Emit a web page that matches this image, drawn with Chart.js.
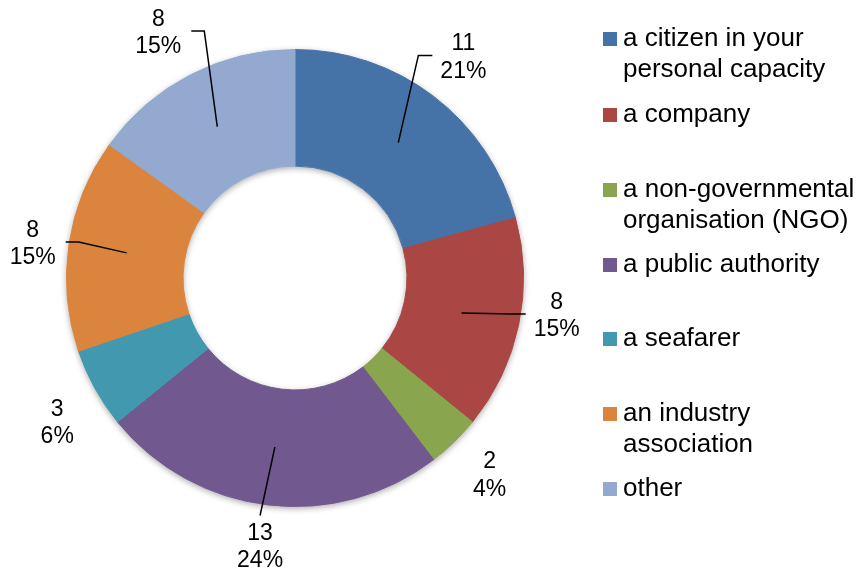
<!DOCTYPE html>
<html>
<head>
<meta charset="utf-8">
<title>Respondents by type</title>
<script src="https://cdn.jsdelivr.net/npm/chart.js@4.4.1/dist/chart.umd.min.js"></script>
<style>
  html, body { margin: 0; padding: 0; background: #fff; }
  #wrap { width: 861px; height: 574px; }
</style>
</head>
<body>
<div id="wrap"><canvas id="donut" width="861" height="574"></canvas></div>
<script>
// data
const categories = [
  'a citizen in your personal capacity',
  'a company',
  'a non-governmental organisation (NGO)',
  'a public authority',
  'a seafarer',
  'an industry association',
  'other'
];
const legendLines = [
  ['a citizen in your', 'personal capacity'],
  ['a company'],
  ['a non-governmental', 'organisation (NGO)'],
  ['a public authority'],
  ['a seafarer'],
  ['an industry', 'association'],
  ['other']
];
const counts = [11, 8, 2, 13, 3, 8, 8];
const percentLabels = ['21%', '15%', '4%', '24%', '6%', '15%', '15%'];
const sliceColors = ['#4572A7', '#AA4643', '#89A54E', '#71588F', '#4198AF', '#DB843D', '#93A9CF'];

// label layout (distance past the outer edge, angular nudge in degrees, leader side)
const labelGap = [49, 36, 49, 43, 50, 36, 52];
const labelTurn = [0, -3.6, -0.4, 0.6, -2.5, -1.1, -2];
const leaderSide = ['left', 'left', null, 'top', null, 'right', 'right'];

// legend layout: centre y of the first line of each entry
const legendRowY = [39, 115, 190, 265, 339, 414, 489];

const FONT = '"Liberation Sans", Arial, Helvetica, sans-serif';
const LABEL_SIZE = 23;
const LABEL_LINE = 27.5;
const LEGEND_SIZE = 26;
const LEGEND_LINE = 30.5;

const ringShadow = {
  id: 'ringShadow',
  beforeDatasetsDraw(chart) {
    const arc = chart.getDatasetMeta(0).data[0];
    if (!arc) return;
    const { x, y, innerRadius, outerRadius } = arc.getProps(['x', 'y', 'innerRadius', 'outerRadius'], true);
    const ctx = chart.ctx;
    ctx.save();
    ctx.shadowColor = 'rgba(0, 0, 0, 0.35)';
    ctx.shadowBlur = 6;
    ctx.shadowOffsetX = 0;
    ctx.shadowOffsetY = 2;
    ctx.fillStyle = '#ffffff';
    ctx.beginPath();
    ctx.arc(x, y, outerRadius, 0, Math.PI * 2);
    ctx.arc(x, y, innerRadius, 0, Math.PI * 2, true);
    ctx.fill();
    ctx.restore();
  }
};

const sliceLabels = {
  id: 'sliceLabels',
  afterDatasetsDraw(chart) {
    const ctx = chart.ctx;
    const meta = chart.getDatasetMeta(0);
    ctx.save();
    ctx.font = `${LABEL_SIZE}px ${FONT}`;
    ctx.fillStyle = '#000';
    ctx.strokeStyle = '#000';
    ctx.lineWidth = 1.5;
    ctx.textAlign = 'center';
    ctx.textBaseline = 'middle';
    meta.data.forEach((arc, i) => {
      const p = arc.getProps(['x', 'y', 'startAngle', 'endAngle', 'innerRadius', 'outerRadius'], true);
      const mid = (p.startAngle + p.endAngle) / 2;
      const a = mid + labelTurn[i] * Math.PI / 180;
      const r = p.outerRadius + labelGap[i];
      const cx = p.x + r * Math.cos(a);
      const cy = p.y + r * Math.sin(a);
      const lines = [String(counts[i]), percentLabels[i]];
      const w = Math.max(...lines.map((t) => ctx.measureText(t).width));
      const y0 = cy - LABEL_LINE / 2;
      lines.forEach((t, k) => ctx.fillText(t, cx, y0 + k * LABEL_LINE));

      const side = leaderSide[i];
      if (!side) return;
      const rm = (p.innerRadius + p.outerRadius) / 2;
      const sx = p.x + rm * Math.cos(mid);
      const sy = p.y + rm * Math.sin(mid);
      ctx.beginPath();
      ctx.moveTo(sx, sy);
      if (side === 'left') {
        const ex = cx - w / 2 - 8;
        const ey = cy - 2;
        ctx.lineTo(ex - 14, ey);
        ctx.lineTo(ex, ey);
      } else if (side === 'right') {
        const ex = cx + w / 2 + 10;
        const ey = cy - 2;
        ctx.lineTo(ex + 13, ey);
        ctx.lineTo(ex, ey);
      } else {
        ctx.lineTo(cx, y0 - 18);
      }
      ctx.stroke();
    });
    ctx.restore();
  }
};

const sideLegend = {
  id: 'sideLegend',
  afterDraw(chart) {
    const ctx = chart.ctx;
    ctx.save();
    ctx.font = `${LEGEND_SIZE}px ${FONT}`;
    ctx.fillStyle = '#000';
    ctx.textAlign = 'left';
    ctx.textBaseline = 'middle';
    legendLines.forEach((lines, i) => {
      const y = legendRowY[i];
      ctx.fillStyle = sliceColors[i];
      ctx.fillRect(603, y - 7, 14, 14);
      ctx.fillStyle = '#000';
      lines.forEach((t, k) => ctx.fillText(t, 623, y + k * LEGEND_LINE));
    });
    ctx.restore();
  }
};

new Chart(document.getElementById('donut'), {
  type: 'doughnut',
  data: {
    labels: categories,
    datasets: [{
      data: counts,
      backgroundColor: sliceColors,
      borderColor: sliceColors,
      borderWidth: 1,
      hoverOffset: 0
    }]
  },
  options: {
    responsive: false,
    animation: false,
    devicePixelRatio: 1,
    cutout: '49%',
    layout: { padding: { left: 66, top: 49, right: 337, bottom: 67 } },
    plugins: {
      legend: { display: false },
      tooltip: { enabled: false }
    }
  },
  plugins: [ringShadow, sliceLabels, sideLegend]
});
</script>
</body>
</html>
